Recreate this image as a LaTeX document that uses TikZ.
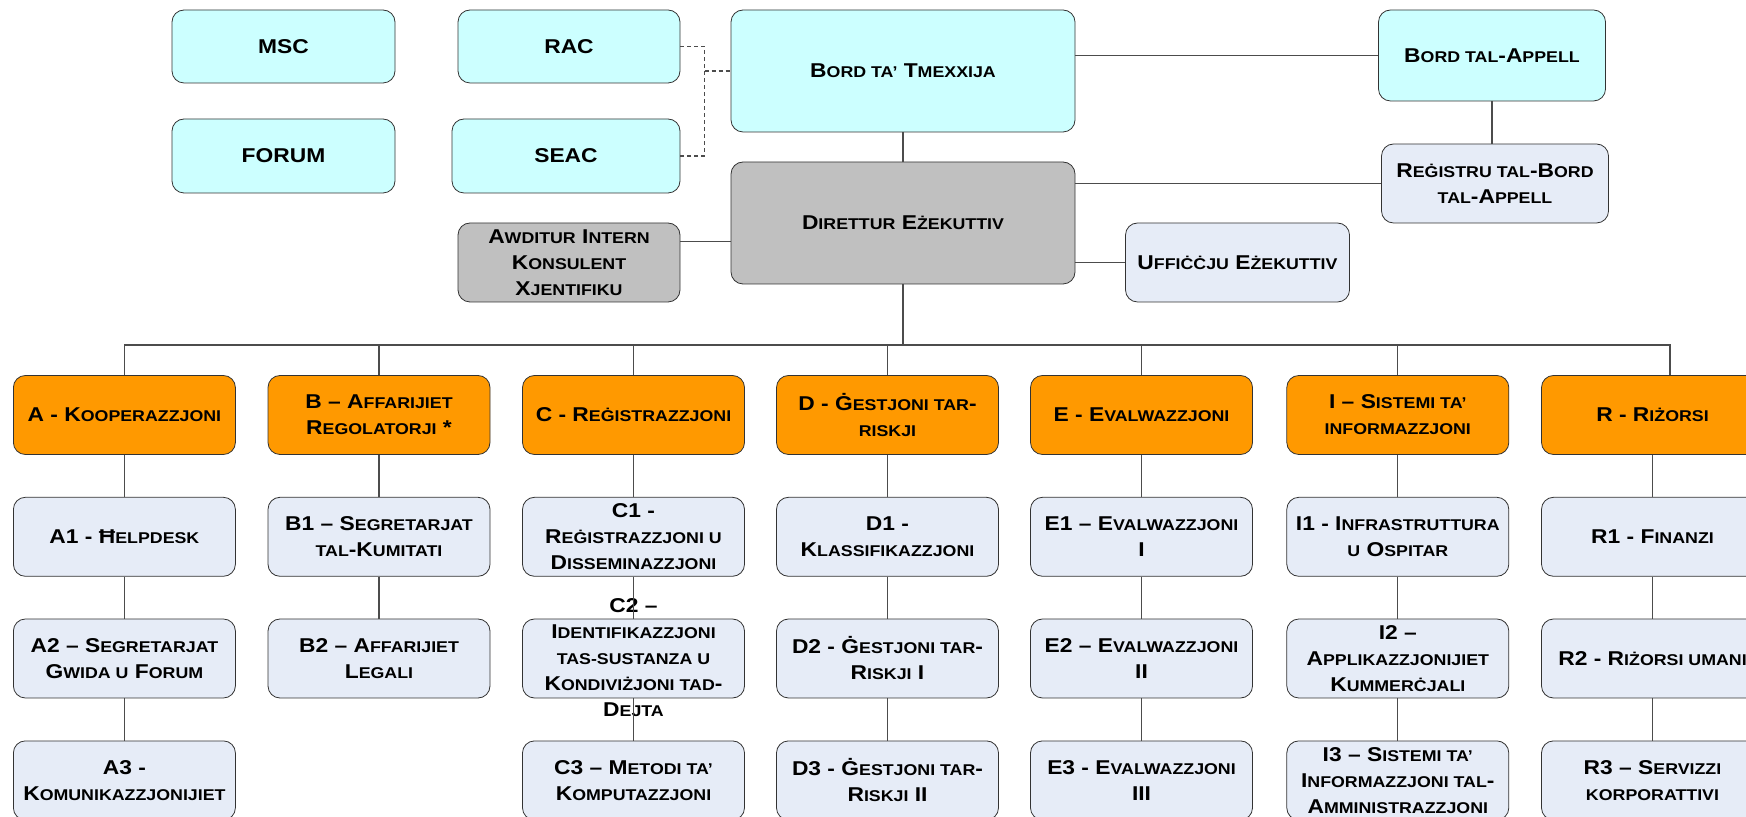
\documentclass[tikz,border=0pt]{standalone}
\usepackage{fontspec}
\setmainfont{Liberation Sans}[FakeStretch=1.14]
\definecolor{boardcyan}{HTML}{CCFFFF}
\definecolor{dirgray}{HTML}{C0C0C0}
\definecolor{deptorange}{HTML}{FF9900}
\definecolor{unitblue}{HTML}{E6ECF7}
\newcommand\sm[1]{{\fontsize{7.8}{13}\selectfont #1}}

\begin{document}
\begin{tikzpicture}[x=0.5pt, y=-0.5pt,
                    bx/.style={draw=black!80, rounded corners=6pt, align=center, inner sep=0pt,
                               minimum width=111pt, minimum height=39.5pt,
                               font=\fontsize{10}{13}\selectfont\bfseries},
                    bdnode/.style={bx, fill=boardcyan},
                    dirnode/.style={bx, fill=dirgray},
                    deptnode/.style={bx, fill=deptorange},
                    unitnode/.style={bx, fill=unitblue},
                    link/.style={draw=black!70, line width=0.6pt}]
        \useasboundingbox (0,0) rectangle (1746,817);
        \clip (0,0) rectangle (1746,817);
        \draw (283.5,46.5) node[bdnode, minimum width=111.5pt, minimum height=36.5pt] (MSC) {MSC}
              (283.5,156) node[bdnode, minimum width=111.5pt, minimum height=37pt] (FORUM) {FORUM}
              (569,46.5) node[bdnode, minimum height=36.5pt] (RAC) {RAC}
              (566,156) node[bdnode, minimum width=114pt, minimum height=37pt] (SEAC) {SEAC}
              (903,71) node[bdnode, minimum width=172pt, minimum height=61pt] (Bord) {B\sm{ORD TA’} T\sm{MEXXIJA}}
              (903,223) node[dirnode, minimum width=172pt, minimum height=61pt] (Dir) {D\sm{IRETTUR} E\sm{ŻEKUTTIV}}
              (569,262.5) node[dirnode] (Aw) {A\sm{WDITUR} I\sm{NTERN}\\K\sm{ONSULENT}\\X\sm{JENTIFIKU}}
              (1237.5,262.5) node[unitnode, minimum width=112pt] (Uff) {U\sm{FFIĊĊJU} E\sm{ŻEKUTTIV}}
              (1492,55.5) node[bdnode, minimum width=113.5pt, minimum height=45.5pt] (Appell) {B\sm{ORD TAL}-A\sm{PPELL}}
              (1495,183.5) node[unitnode, minimum width=113.5pt] (Reg) {R\sm{EĠISTRU TAL}-B\sm{ORD}\\\sm{TAL}-A\sm{PPELL}};
        \draw (124.4,415) node[deptnode] (A) {A - K\sm{OOPERAZZJONI}}
              (379,415) node[deptnode] (B) {B – A\sm{FFARIJIET}\\R\sm{EGOLATORJI} *}
              (633.5,415) node[deptnode] (C) {C - R\sm{EĠISTRAZZJONI}}
              (887.5,415) node[deptnode] (D) {D - Ġ\sm{ESTJONI TAR}-\\\sm{RISKJI}}
              (1141.5,415) node[deptnode] (E) {E - E\sm{VALWAZZJONI}}
              (1397.8,415) node[deptnode] (I) {I – S\sm{ISTEMI TA’}\\\sm{INFORMAZZJONI}}
              (1652.5,415) node[deptnode] (R) {R - R\sm{IŻORSI}};
        \draw (124.4,536.8) node[unitnode] (A1) {A1 - Ħ\sm{ELPDESK}}
              (124.4,658.5) node[unitnode] (A2) {A2 – S\sm{EGRETARJAT}\\G\sm{WIDA U} F\sm{ORUM}}
              (124.4,780.4) node[unitnode] (A3) {A3 -\\K\sm{OMUNIKAZZJONIJIET}}
              (379,536.8) node[unitnode] (B1) {B1 – S\sm{EGRETARJAT}\\\sm{TAL}-K\sm{UMITATI}}
              (379,658.5) node[unitnode] (B2) {B2 – A\sm{FFARIJIET}\\L\sm{EGALI}}
              (633.5,536.8) node[unitnode] (C1) {C1 -\\R\sm{EĠISTRAZZJONI U}\\D\sm{ISSEMINAZZJONI}}
              (633.5,658.5) node[unitnode] (C2) {\smash{\raisebox{-2.8pt}{\begin{tabular}{@{}c@{}}C2 –\\I\sm{DENTIFIKAZZJONI}\\\sm{TAS-SUSTANZA U}\\K\sm{ONDIVIŻJONI TAD}-\\D\sm{EJTA}\end{tabular}}}}
              (633.5,780.4) node[unitnode] (C3) {C3 – M\sm{ETODI TA’}\\K\sm{OMPUTAZZJONI}}
              (887.5,536.8) node[unitnode] (D1) {D1 -\\K\sm{LASSIFIKAZZJONI}}
              (887.5,658.5) node[unitnode] (D2) {D2 - Ġ\sm{ESTJONI TAR}-\\R\sm{ISKJI} I}
              (887.5,780.4) node[unitnode] (D3) {D3 - Ġ\sm{ESTJONI TAR}-\\R\sm{ISKJI} II}
              (1141.5,536.8) node[unitnode] (E1) {E1 – E\sm{VALWAZZJONI}\\I}
              (1141.5,658.5) node[unitnode] (E2) {E2 – E\sm{VALWAZZJONI}\\II}
              (1141.5,780.4) node[unitnode] (E3) {E3 - E\sm{VALWAZZJONI}\\III}
              (1397.8,536.8) node[unitnode] (I1) {I1 - I\sm{NFRASTRUTTURA}\\\sm{U} O\sm{SPITAR}}
              (1397.8,658.5) node[unitnode] (I2) {I2 –\\A\sm{PPLIKAZZJONIJIET}\\K\sm{UMMERĊJALI}}
              (1397.8,780.4) node[unitnode] (I3) {I3 – S\sm{ISTEMI TA’}\\I\sm{NFORMAZZJONI TAL}-\\A\sm{MMINISTRAZZJONI}}
              (1652.5,536.8) node[unitnode] (R1) {R1 - F\sm{INANZI}}
              (1652.5,658.5) node[unitnode] (R2) {R2 - R\sm{IŻORSI UMANI}}
              (1652.5,780.4) node[unitnode] (R3) {R3 – S\sm{ERVIZZI}\\\sm{KORPORATTIVI}};
        \coordinate (jn) at (704.5,71);
        \coordinate (bus) at (0,345);
        \draw[link, dash pattern=on 2pt off 1.5pt] (RAC.east) -| (jn) |- (SEAC.east) (jn) -- (Bord.west);
        \draw[link] (Bord.south)--(Dir.north);
        \draw[link] (Appell.west)--(Appell.west -| Bord.east);
        \draw[link] (Appell.south)--(Appell.south |- Reg.north);
        \draw[link] (Reg.west)--(Reg.west -| Dir.east);
        \draw[link] (Uff.west)--(Uff.west -| Dir.east);
        \draw[link] ([yshift=10.4pt]Aw.east)--([yshift=10.4pt]Aw.east -| Dir.west);
        \draw[link] (Dir.south)--(Dir.south |- bus);
        \draw[link] (A.north)--(A.north |- bus) -| ([xshift=8.75pt]R.north);
        \draw[link] (B.north)--(B.north |- bus) (C.north)--(C.north |- bus) (D.north)--(D.north |- bus)
                    (E.north)--(E.north |- bus) (I.north)--(I.north |- bus);
        \draw[link] (A.south)--(A1.north) (A1.south)--(A2.north) (A2.south)--(A3.north);
        \draw[link] (B.south)--(B1.north) (B1.south)--(B2.north);
        \draw[link] (C.south)--(C1.north) (C1.south)--(C2.north) (C2.south)--(C3.north);
        \draw[link] (D.south)--(D1.north) (D1.south)--(D2.north) (D2.south)--(D3.north);
        \draw[link] (E.south)--(E1.north) (E1.south)--(E2.north) (E2.south)--(E3.north);
        \draw[link] (I.south)--(I1.north) (I1.south)--(I2.north) (I2.south)--(I3.north);
        \draw[link] (R.south)--(R1.north) (R1.south)--(R2.north) (R2.south)--(R3.north);
    \end{tikzpicture}
\end{document}
